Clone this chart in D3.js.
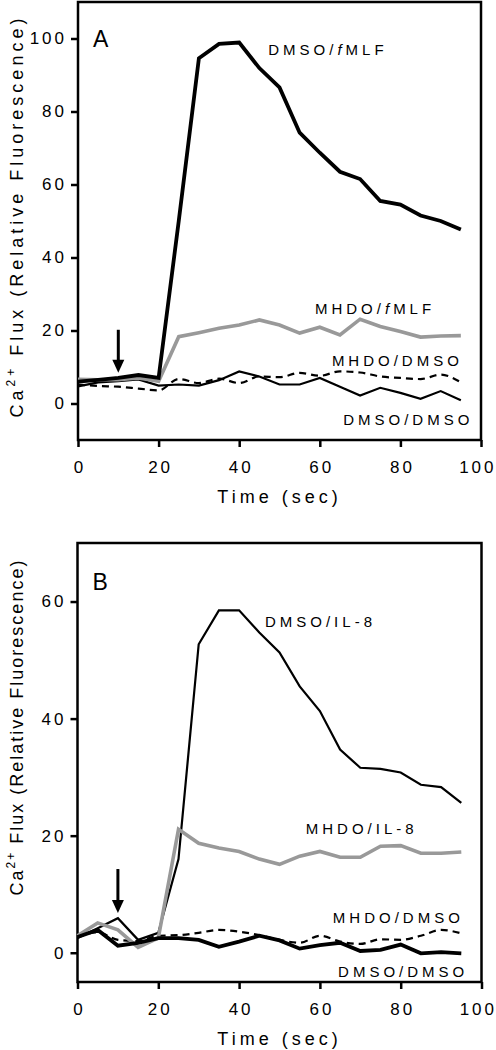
<!DOCTYPE html>
<html><head><meta charset="utf-8">
<script src="https://cdn.jsdelivr.net/npm/d3@7"></script>
<style>
html,body{margin:0;padding:0;background:#fff;}
svg{display:block;}
text{font-family:"Liberation Sans",Arial,sans-serif;fill:#000;}
</style></head>
<body>
<svg id="chart" width="496" height="1050"></svg>
<script>
// ---------- data ----------
const time = [0,5,10,15,20,25,30,35,40,45,50,55,60,65,70,75,80,85,90,95];
const xTicks = [0,20,40,60,80,100];

// Panel A
const A_dmsoFmlf = [6,6.5,7,7.8,7,50,94.6,98.5,98.9,91.9,86.6,74.2,68.7,63.5,61.5,55.5,54.5,51.5,50,47.7];
const A_mhdoFmlf = [6.6,6.5,6.5,7,6.1,18.3,19.4,20.6,21.5,22.9,21.5,19.3,20.9,18.8,23.1,21.1,19.7,18.2,18.5,18.6];
const A_mhdoDmso = [5.2,4.8,4.6,4.1,3.6,6.7,5.6,6.8,5.6,7.4,7.2,8.4,7.6,8.8,8.5,7.4,7,6.7,7.9,5.8];
const A_dmsoDmso = [4.7,5.8,6.1,6.6,4.9,5.2,4.9,6.4,8.8,7.4,5.2,5.2,7,4.6,2.2,4.3,2.9,1.3,3.4,0.9];
const A_yTicks = [0,20,40,60,80,100];

// Panel B
const B_dmsoIl8 = [2.5,4.2,5.9,2.2,3.4,16,52.7,58.5,58.5,54.7,51.3,45.5,41.3,34.7,31.6,31.4,30.8,28.7,28.3,25.6];
const B_mhdoIl8 = [2.9,5.1,3.9,0.9,2.5,21.1,18.7,17.9,17.3,16,15.1,16.5,17.3,16.3,16.3,18.2,18.3,17,17,17.2];
const B_mhdoDmso = [2.7,3.5,2.2,2,2.9,3,3.4,3.9,3.6,3,2.2,1.7,2.9,1.9,1.5,2.3,2.2,2.9,3.9,3.3];
const B_dmsoDmso = [2.7,3.9,1.2,1.7,2.5,2.5,2.2,1,1.9,2.9,2.1,0.7,1.3,1.7,0.3,0.5,1.4,-0.1,0.1,-0.1];
const B_yTicks = [0,20,40,60];

// ---------- drawing ----------
const svg = d3.select("#chart");
const GRAY = "#999999";

function panel(cfg){
  const g = svg.append("g");
  const x = d3.scaleLinear().domain([0,100]).range([cfg.left, cfg.right]);
  const y = d3.scaleLinear().domain(cfg.yDomain).range([cfg.bottom, cfg.top]);

  // axes
  const ax = g.append("g").attr("transform",`translate(0,${cfg.bottom})`)
    .call(d3.axisBottom(x).tickValues(xTicks).tickSize(7).tickPadding(14).tickFormat(d3.format("d")));
  const ay = g.append("g").attr("transform",`translate(${cfg.left},0)`)
    .call(d3.axisLeft(y).tickValues(cfg.yTicks).tickSize(7).tickPadding(7).tickFormat(d3.format("d")));
  [ax,ay].forEach(a=>{
    a.select(".domain").remove();
    a.selectAll(".tick line").attr("stroke","#000").attr("stroke-width",2.5);
    a.selectAll(".tick text").attr("font-size",17).attr("font-family","Liberation Sans, Arial, sans-serif")
      .style("letter-spacing","3px").attr("fill","#000");
  });
  ax.selectAll(".tick text").attr("dx","1.5px");
  ay.selectAll(".tick text").attr("dx","3px");
  // last x tick label: keep it inside the page
  ax.selectAll(".tick text").filter(d=>d===100).attr("text-anchor","end").attr("dx","15px");

  // frame
  g.append("rect").attr("x",cfg.left).attr("y",cfg.top)
    .attr("width",cfg.right-cfg.left).attr("height",cfg.bottom-cfg.top)
    .attr("fill","none").attr("stroke","#000").attr("stroke-width",2.5);

  const line = d3.line().x((d,i)=>x(time[i])).y(d=>y(d));
  const smooth = d3.line().x((d,i)=>x(time[i])).y(d=>y(d)).curve(d3.curveMonotoneX);
  cfg.series.forEach(s=>{
    g.append("path").datum(s.values)
      .attr("d", s.dash ? smooth : line)
      .attr("fill","none").attr("stroke",s.color).attr("stroke-width",s.width)
      .attr("stroke-linejoin","miter").attr("stroke-dasharray",s.dash||null);
  });

  // arrow
  const ax0 = x(cfg.arrow.t), ay0 = y(cfg.arrow.from), ay1 = y(cfg.arrow.to);
  g.append("line").attr("x1",ax0).attr("x2",ax0).attr("y1",ay0).attr("y2",ay1-10)
    .attr("stroke","#000").attr("stroke-width",3);
  g.append("path").attr("d",`M${ax0-6},${ay1-13}L${ax0+6},${ay1-13}L${ax0},${ay1}Z`).attr("fill","#000");

  // series labels
  cfg.labels.forEach(l=>{
    const t = g.append("text").attr("x",x(l.t)).attr("y",y(l.v))
      .attr("font-size",15).style("letter-spacing","4px");
    l.parts.forEach(p=>{
      t.append("tspan").text(p.s).attr("font-style",p.i?"italic":null);
    });
  });

  // panel letter
  g.append("text").attr("x",cfg.left+15).attr("y",cfg.top+cfg.letterDy)
    .attr("font-size",23).text(cfg.letter);

  // x title
  g.append("text").attr("x",(cfg.left+cfg.right)/2).attr("y",cfg.bottom+63)
    .attr("text-anchor","middle").attr("font-size",18).style("letter-spacing","4px")
    .text("Time (sec)");

  // y title
  const yt = g.append("text").attr("transform",`translate(23,${cfg.yTitleC}) rotate(-90)`)
    .attr("text-anchor","middle").attr("font-size",18).style("letter-spacing",cfg.yTitleLs);
  yt.append("tspan").text("Ca");
  yt.append("tspan").attr("font-size",12).attr("dy",-8).text("2+");
  yt.append("tspan").attr("dy",8).text(" Flux (Relative Fluorescence)");
}

panel({
  left:78, right:481, top:2, bottom:440, yDomain:[-10,110], yTicks:A_yTicks,
  letter:"A", letterDy:45, yTitleC:216, yTitleLs:"4px",
  arrow:{t:10, from:20.2, to:8.4},
  series:[
    {values:A_mhdoDmso, color:"#000", width:2.2, dash:"7,5"},
    {values:A_dmsoDmso, color:"#000", width:2.2},
    {values:A_mhdoFmlf, color:GRAY, width:3.6},
    {values:A_dmsoFmlf, color:"#000", width:3.8}
  ],
  labels:[
    {t:47.2, v:95.6, parts:[{s:"DMSO/"},{s:"f",i:true},{s:"MLF"}]},
    {t:58.8, v:24.5, parts:[{s:"MHDO/"},{s:"f",i:true},{s:"MLF"}]},
    {t:63,   v:10.4, parts:[{s:"MHDO/DMSO"}]},
    {t:65.8, v:-6,   parts:[{s:"DMSO/DMSO"}]}
  ]
});

panel({
  left:77.5, right:481.5, top:543, bottom:982, yDomain:[-5,70], yTicks:B_yTicks,
  letter:"B", letterDy:47, yTitleC:727, yTitleLs:"2px",
  arrow:{t:10, from:14.3, to:6.8},
  series:[
    {values:B_mhdoDmso, color:"#000", width:2.2, dash:"7,5"},
    {values:B_dmsoIl8, color:"#000", width:2.2},
    {values:B_mhdoIl8, color:GRAY, width:3.6},
    {values:B_dmsoDmso, color:"#000", width:3.8}
  ],
  labels:[
    {t:46.4, v:55.6, parts:[{s:"DMSO/IL-8"}]},
    {t:56.5, v:20.3, parts:[{s:"MHDO/IL-8"}]},
    {t:63.2, v:5.1,  parts:[{s:"MHDO/DMSO"}]},
    {t:64.5, v:-4.2, parts:[{s:"DMSO/DMSO"}]}
  ]
});
</script>
</body></html>
